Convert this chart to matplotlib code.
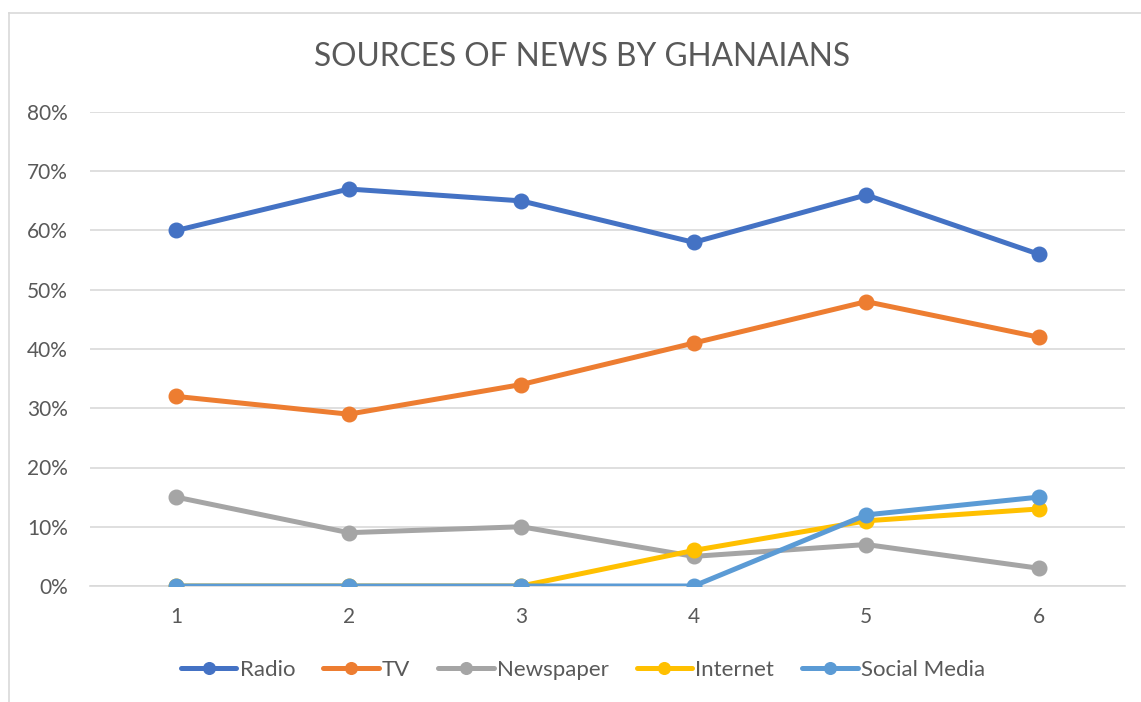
import matplotlib
matplotlib.use("Agg")
import matplotlib.pyplot as plt
from matplotlib.lines import Line2D
from matplotlib.ticker import FuncFormatter

# Share of Ghanaians naming each news source, survey rounds 1-6
rounds = [1, 2, 3, 4, 5, 6]
radio = [60, 67, 65, 58, 66, 56]
tv = [32, 29, 34, 41, 48, 42]
newspaper = [15, 9, 10, 5, 7, 3]
internet = [0, 0, 0, 6, 11, 13]
social_media = [0, 0, 0, 0, 12, 15]

series_names = ["Radio", "TV", "Newspaper", "Internet", "Social Media"]
series_values = [radio, tv, newspaper, internet, social_media]
colors = ["#4472C4", "#ED7D31", "#A5A5A5", "#FFC000", "#5B9BD5"]

title = "SOURCES OF NEWS BY GHANAIANS"
y_ticks = [0, 10, 20, 30, 40, 50, 60, 70, 80]

plt.rcParams["font.family"] = ["Lato", "DejaVu Sans"]
text_color = "#595959"
grid_color = "#D9D9D9"

W, H = 1141, 702
fig = plt.figure(figsize=(W / 100, H / 100), dpi=100)
fig.patch.set_facecolor("white")

ax = fig.add_axes([90 / W, 1 - 586 / H, (1125 - 90) / W, (586 - 112) / H])

for name, vals, c in zip(series_names, series_values, colors):
    ax.plot(rounds, [v / 100 for v in vals], color=c, lw=3.6, marker="o",
            markersize=10.5, label=name, solid_capstyle="round", zorder=3)

ax.set_xlim(0.5, 6.5)
ax.set_ylim(0, 0.8)
ax.set_yticks([t / 100 for t in y_ticks])
ax.yaxis.set_major_formatter(FuncFormatter(lambda v, p: f"{v * 100:.0f}%"))
ax.set_xticks(rounds)
ax.grid(axis="y", color=grid_color, lw=1.2, zorder=0)
ax.set_axisbelow(True)
for s in ["top", "right", "left"]:
    ax.spines[s].set_visible(False)
ax.spines["bottom"].set_color(grid_color)
ax.spines["bottom"].set_linewidth(1.2)
ax.tick_params(axis="both", length=0, labelsize=15, labelcolor=text_color)
ax.tick_params(axis="x", pad=15)
ax.tick_params(axis="y", pad=16)

fig.text(582 / W, 1 - 57 / H, title, ha="center", va="center",
         fontsize=22.8, color=text_color)

leg = fig.legend(loc="center", bbox_to_anchor=(583 / W, 1 - 670 / H), ncol=5,
                 frameon=False, fontsize=16, handlelength=2.5, markerscale=0.8,
                 handletextpad=0.15, columnspacing=1.25, labelcolor=text_color)

# chart frame
fig.add_artist(Line2D([9 / W, 9 / W], [0, 1 - 13 / H], color=grid_color, lw=1.2))
fig.add_artist(Line2D([9 / W, 1], [1 - 13 / H, 1 - 13 / H], color=grid_color, lw=1.2))

fig.savefig("out.png", dpi=100, facecolor="white")
